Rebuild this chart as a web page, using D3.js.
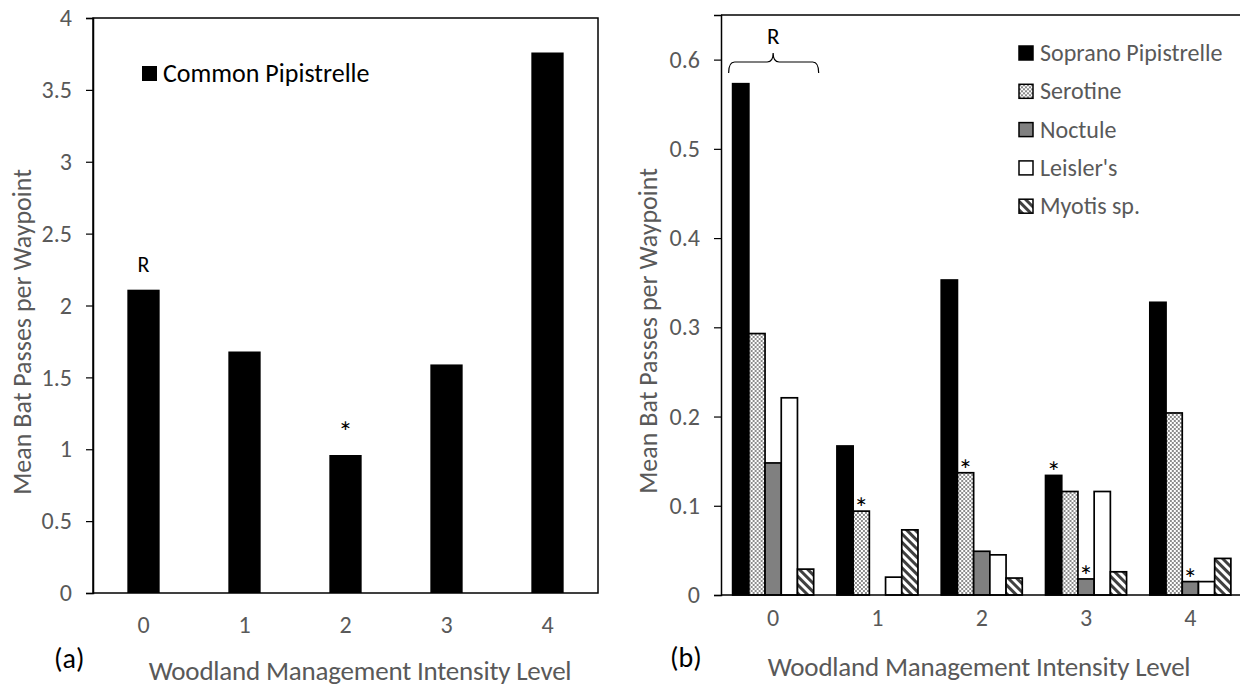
<!DOCTYPE html>
<html>
<head>
<meta charset="utf-8">
<script src="https://cdn.jsdelivr.net/npm/d3@7"></script>
<style>
  html, body { margin: 0; padding: 0; background: #fff; }
  svg { display: block; }
  text { font-family: Carlito, Lato, "Open Sans", sans-serif; }
</style>
</head>
<body>
<svg id="chart" width="1240" height="686"></svg>
<script>
// Woodland management intensity levels
const levels = ["0", "1", "2", "3", "4"];

// Panel (a): Common Pipistrelle
const commonPipistrelle = [2.11, 1.68, 0.96, 1.59, 3.76];
const commonMarks = ["R", "", "*", "", ""];
const ticksA = [0, 0.5, 1, 1.5, 2, 2.5, 3, 3.5, 4];

// Panel (b): other species
const speciesB = ["Soprano Pipistrelle", "Serotine", "Noctule", "Leisler's", "Myotis sp."];
const soprano  = [0.573, 0.167, 0.353, 0.134, 0.328];
const serotine = [0.293, 0.094, 0.137, 0.116, 0.204];
const noctule  = [0.148, 0.000, 0.049, 0.018, 0.015];
const leislers = [0.221, 0.020, 0.045, 0.116, 0.015];
const myotis   = [0.029, 0.073, 0.019, 0.026, 0.041];
// significance markers per species per level
const marksB = [
  ["", "", "", "*", ""],
  ["", "*", "*", "", ""],
  ["", "", "", "*", "*"],
  ["", "", "", "", ""],
  ["", "", "", "", ""]
];
const ticksB = [0, 0.1, 0.2, 0.3, 0.4, 0.5, 0.6];

const xTitle = "Woodland Management Intensity Level";
const yTitle = "Mean Bat Passes per Waypoint";

const grey = "#595959";
const svg = d3.select("#chart");

// Fill patterns for the hatched series
const defs = svg.append("defs");
const check = defs.append("pattern").attr("id", "check")
  .attr("patternUnits", "userSpaceOnUse").attr("width", 4).attr("height", 4);
check.append("rect").attr("width", 4).attr("height", 4).attr("fill", "#fff");
check.append("rect").attr("width", 2).attr("height", 2).attr("fill", "#8c8c8c");
check.append("rect").attr("x", 2).attr("y", 2).attr("width", 2).attr("height", 2).attr("fill", "#8c8c8c");

const stripe = defs.append("pattern").attr("id", "stripe")
  .attr("patternUnits", "userSpaceOnUse").attr("width", 6).attr("height", 6)
  .attr("patternTransform", "rotate(45)");
stripe.append("rect").attr("width", 6).attr("height", 6).attr("fill", "#fff");
stripe.append("rect").attr("width", 6).attr("height", 3).attr("fill", "#404040");

const fillsB = ["#000", "url(#check)", "#808080", "#fff", "url(#stripe)"];

// ---------- Panel (a) ----------
const A = { left: 93, right: 598, top: 18, bottom: 593 };
const xA = d3.scaleBand().domain(levels).range([A.left, A.right])
  .paddingInner(0.68).paddingOuter(0.34);
const yA = d3.scaleLinear().domain([0, 4]).range([A.bottom, A.top]);

const gA = svg.append("g");
gA.selectAll("rect.bar").data(commonPipistrelle).join("rect")
  .attr("class", "bar")
  .attr("x", (d, i) => xA(levels[i]))
  .attr("width", xA.bandwidth())
  .attr("y", d => yA(d))
  .attr("height", d => yA(0) - yA(d))
  .attr("fill", "#000");

gA.selectAll("text.mark").data(commonPipistrelle).join("text")
  .attr("class", "mark")
  .attr("x", (d, i) => xA(levels[i]) + xA.bandwidth() / 2)
  .attr("y", (d, i) => yA(d) - (commonMarks[i] === "*" ? 13 : 18))
  .attr("text-anchor", "middle")
  .attr("font-size", (d, i) => commonMarks[i] === "*" ? 29 : 22)
  .attr("fill", "#000")
  .text((d, i) => commonMarks[i]);

// frame
gA.append("rect").attr("x", A.left).attr("y", A.top)
  .attr("width", A.right - A.left).attr("height", A.bottom - A.top)
  .attr("fill", "none").attr("stroke", "#000").attr("stroke-width", 1.5);

const axA = gA.append("g").attr("transform", `translate(${A.left},0)`)
  .call(d3.axisLeft(yA).tickValues(ticksA).tickSize(7).tickPadding(14).tickFormat(d3.format("~g")));
axA.select(".domain").attr("stroke", "#000").attr("stroke-width", 1.5);
axA.selectAll(".tick line").attr("stroke", "#000").attr("stroke-width", 1.2);
axA.selectAll(".tick text").attr("fill", grey).attr("font-size", 24).attr("font-family", null);

gA.selectAll("text.xt").data(levels).join("text")
  .attr("class", "xt")
  .attr("x", d => xA(d) + xA.bandwidth() / 2)
  .attr("y", 633)
  .attr("text-anchor", "middle").attr("fill", grey).attr("font-size", 24)
  .text(d => d);

gA.append("text").attr("x", 360).attr("y", 680).attr("text-anchor", "middle")
  .attr("fill", grey).attr("font-size", 27).attr("letter-spacing", -0.2).text(xTitle);
gA.append("text").attr("transform", "translate(31,332) rotate(-90)")
  .attr("text-anchor", "middle").attr("fill", grey).attr("font-size", 26).text(yTitle);
gA.append("text").attr("x", 54).attr("y", 668).attr("fill", "#000").attr("font-size", 28).text("(a)");

// legend
gA.append("rect").attr("x", 142).attr("y", 66).attr("width", 15).attr("height", 15).attr("fill", "#000");
gA.append("text").attr("x", 163).attr("y", 82).attr("fill", "#000").attr("font-size", 26).text("Common Pipistrelle");

// ---------- Panel (b) ----------
const B = { left: 721, right: 1242.5, top: 15, bottom: 595 };
const seriesB = [soprano, serotine, noctule, leislers, myotis];
const x0 = d3.scaleBand().domain(levels).range([B.left, B.right])
  .paddingInner(0.223).paddingOuter(0.1115);
const x1 = d3.scaleBand().domain(speciesB).range([0, x0.bandwidth()]);
const yB = d3.scaleLinear().domain([0, 0.65]).range([B.bottom, B.top]);

const gB = svg.append("g");
const groups = gB.selectAll("g.level").data(levels).join("g")
  .attr("class", "level")
  .attr("transform", d => `translate(${x0(d)},0)`);

groups.selectAll("rect").data((lv, li) => seriesB.map((s, si) => ({ v: s[li], si, li })).filter(o => o.v > 0))
  .join("rect")
  .attr("x", o => x1(speciesB[o.si]))
  .attr("width", x1.bandwidth())
  .attr("y", o => yB(o.v))
  .attr("height", o => yB(0) - yB(o.v))
  .attr("fill", o => fillsB[o.si])
  .attr("stroke", "#000").attr("stroke-width", 1.7);

groups.selectAll("text").data((lv, li) => seriesB.map((s, si) => ({ v: s[li], si, li, m: marksB[si][li] })).filter(o => o.m))
  .join("text")
  .attr("x", o => x1(speciesB[o.si]) + x1.bandwidth() / 2)
  .attr("y", o => yB(o.v) + 7)
  .attr("text-anchor", "middle").attr("fill", "#000").attr("font-size", 29)
  .text(o => o.m);

// plot frame: top, right and base lines
gB.append("line").attr("x1", B.left).attr("x2", B.right).attr("y1", B.top).attr("y2", B.top)
  .attr("stroke", "#000").attr("stroke-width", 1.5);
gB.append("line").attr("x1", B.right).attr("x2", B.right).attr("y1", B.top).attr("y2", B.bottom)
  .attr("stroke", "#000").attr("stroke-width", 1.5);
gB.append("line").attr("x1", B.left).attr("x2", B.right).attr("y1", B.bottom).attr("y2", B.bottom)
  .attr("stroke", "#000").attr("stroke-width", 1.5);

const axB = gB.append("g").attr("transform", `translate(${B.left},0)`)
  .call(d3.axisLeft(yB).tickValues(ticksB).tickSize(7).tickPadding(14).tickFormat(d3.format("~g")));
axB.select(".domain").attr("stroke", "#000").attr("stroke-width", 1.5);
axB.selectAll(".tick line").attr("stroke", "#000").attr("stroke-width", 1.2);
axB.selectAll(".tick text").attr("fill", grey).attr("font-size", 24).attr("font-family", null);

gB.selectAll("text.xt").data(levels).join("text")
  .attr("class", "xt")
  .attr("x", d => x0(d) + x0.bandwidth() / 2)
  .attr("y", 626)
  .attr("text-anchor", "middle").attr("fill", grey).attr("font-size", 24)
  .text(d => d);

gB.append("text").attr("x", 979).attr("y", 676).attr("text-anchor", "middle")
  .attr("fill", grey).attr("font-size", 27).attr("letter-spacing", -0.2).text(xTitle);
gB.append("text").attr("transform", "translate(657,331) rotate(-90)")
  .attr("text-anchor", "middle").attr("fill", grey).attr("font-size", 26).text(yTitle);
gB.append("text").attr("x", 670).attr("y", 667).attr("fill", "#000").attr("font-size", 28).text("(b)");

// "R" brace over level 0
const bx0 = x0("0") - 4, bx1 = x0("0") + x0.bandwidth() + 5, bm = x0("0") + x0.bandwidth() / 2;
const by = 62;
gB.append("path")
  .attr("d", `M${bx0},${by + 11} Q${bx0},${by} ${bx0 + 6},${by} L${bm - 6},${by} Q${bm},${by} ${bm},${by - 9}
              Q${bm},${by} ${bm + 6},${by} L${bx1 - 6},${by} Q${bx1},${by} ${bx1},${by + 11}`)
  .attr("fill", "none").attr("stroke", "#000").attr("stroke-width", 1.2);
gB.append("text").attr("x", bm).attr("y", 44).attr("text-anchor", "middle")
  .attr("fill", "#000").attr("font-size", 23).text("R");

// legend
const leg = gB.selectAll("g.leg").data(speciesB).join("g")
  .attr("class", "leg")
  .attr("transform", (d, i) => `translate(1019,${46 + i * 38.3})`);
leg.append("rect").attr("width", 14).attr("height", 14)
  .attr("fill", (d, i) => fillsB[i]).attr("stroke", "#000").attr("stroke-width", 1.5);
leg.append("text").attr("x", 21).attr("y", 15).attr("fill", grey).attr("font-size", 24).text(d => d);
</script>
</body>
</html>
